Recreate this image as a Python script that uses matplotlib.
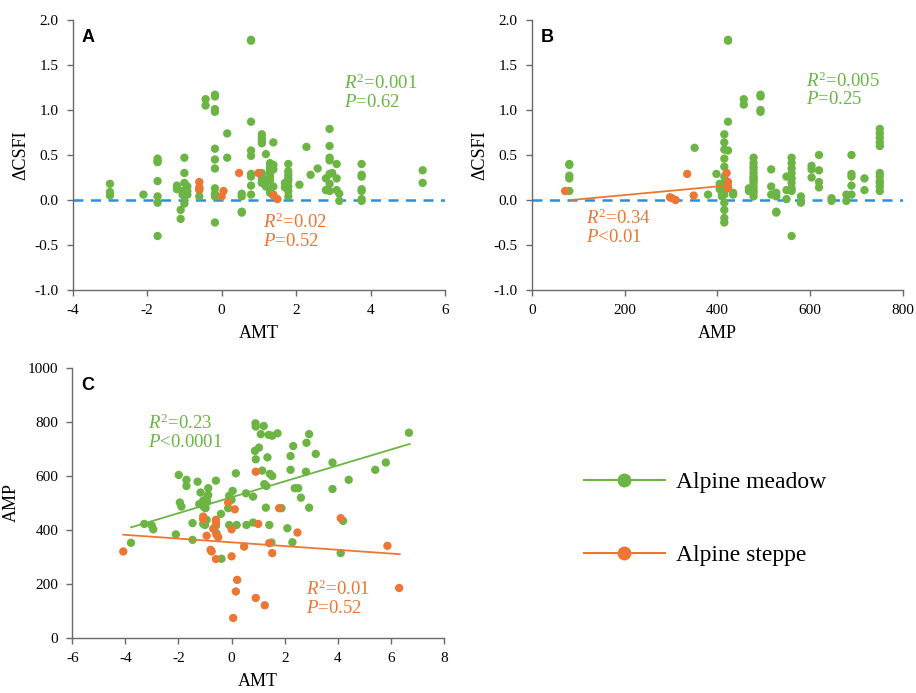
import matplotlib
matplotlib.use("Agg")
import matplotlib.pyplot as plt
from matplotlib.lines import Line2D
from matplotlib.ticker import FormatStrFormatter
import numpy as np

plt.rcParams["font.family"] = ["Liberation Serif", "DejaVu Serif"]
plt.rcParams["mathtext.fontset"] = "custom"
plt.rcParams["mathtext.rm"] = "Liberation Serif"
plt.rcParams["mathtext.it"] = "Liberation Serif:italic"
plt.rcParams["axes.unicode_minus"] = False

GREEN = "#6cb544"
ORANGE = "#ee7635"
BLUE = "#2f8fd6"
SPINE = "#6a6a6a"

# ---- Panel A: ΔCSFI vs AMT ----
meadow_amt_a = [-3.0, -3.0, -3.0, -2.1,
                -1.72, -1.72, -1.72, -1.72, -1.72, -1.72, -1.72,
                -1.2, -1.2, -1.1, -1.1, -1.05, -1.05,
                -1.0, -1.0, -1.0, -1.0, -1.0, -1.0,
                -0.92, -0.92, -0.92, -0.6, -0.6, -0.43, -0.43,
                -0.18, -0.18, -0.18, -0.18, -0.18, -0.18, -0.18, -0.18, -0.18, -0.18, -0.18,
                0.15, 0.15, 0.54, 0.54, 0.54, 0.54,
                0.79, 0.79, 0.79, 0.79, 0.79, 0.79, 0.79, 0.79, 0.79,
                1.08, 1.08, 1.08, 1.08, 1.08, 1.08, 1.08, 1.08,
                1.19, 1.19, 1.19,
                1.30, 1.30, 1.30, 1.30, 1.30, 1.30, 1.30, 1.30,
                1.39, 1.39, 1.39, 1.39, 1.39, 1.70, 1.70,
                1.79, 1.79, 1.79, 1.79, 1.79, 1.79, 1.79, 1.79,
                2.09, 2.28, 2.39, 2.58, 2.80, 2.80,
                2.90, 2.90, 2.90, 2.90, 2.90, 2.90, 2.90, 2.97,
                3.09, 3.09, 3.09, 3.16, 3.16,
                3.76, 3.76, 3.76, 3.76, 3.76, 3.76, 3.76,
                5.40, 5.40]
meadow_csfi_a = [0.18, 0.09, 0.05, 0.06,
                 0.46, 0.43, 0.42, 0.21, 0.04, -0.03, -0.40,
                 0.16, 0.12, -0.11, -0.21, 0.10, 0.06,
                 0.47, 0.30, 0.19, 0.10, 0.04, -0.04,
                 0.15, 0.10, 0.06, 0.11, 0.04, 1.12, 1.05,
                 1.17, 1.15, 1.01, 0.98, 0.57, 0.45, 0.35, 0.13, 0.07, 0.04, -0.25,
                 0.74, 0.47, 0.07, 0.04, -0.13, -0.14,
                 1.78, 1.77, 0.87, 0.55, 0.49, 0.29, 0.26, 0.16, 0.06,
                 0.73, 0.69, 0.66, 0.63, 0.30, 0.26, 0.22, 0.19,
                 0.51, 0.21, 0.15,
                 0.41, 0.37, 0.34, 0.30, 0.26, 0.22, 0.11, 0.08,
                 0.64, 0.39, 0.34, 0.15, 0.06, 0.19, 0.14,
                 0.40, 0.32, 0.28, 0.24, 0.21, 0.15, 0.10, 0.04,
                 0.17, 0.59, 0.28, 0.35, 0.24, 0.11,
                 0.79, 0.60, 0.47, 0.44, 0.29, 0.18, 0.10, 0.30,
                 0.40, 0.24, 0.11, 0.07, -0.01,
                 0.40, 0.28, 0.26, 0.12, 0.10, 0.01, -0.01,
                 0.33, 0.19]
steppe_amt_a = [-0.6, -0.6, -0.6, 0.0, 0.05, 0.47, 0.99, 1.39, 1.50]
steppe_csfi_a = [0.20, 0.14, 0.12, 0.04, 0.10, 0.30, 0.30, 0.05, 0.01]

# ---- Panel B: ΔCSFI vs AMP ----
meadow_amp_b = [81, 81, 81, 81, 81, 351, 380, 398,
                405, 405, 410, 410,
                415, 415, 415, 415, 415, 415, 415, 415, 415, 415, 415, 415, 415,
                423, 423, 423, 423, 423, 434, 434, 457, 457,
                468, 468,
                478, 478, 478, 478, 478, 478, 478, 478, 478, 478, 478, 478, 478,
                493, 493, 493, 493, 516, 516, 516,
                527, 527, 527, 527, 549, 549, 549,
                560, 560, 560, 560, 560, 560, 560, 560, 560,
                580, 580, 603, 603, 603, 619, 619, 619, 619,
                646, 646, 678, 678, 689, 689, 689, 689, 689, 717, 717,
                750, 750, 750, 750, 750, 750, 750, 750, 750, 750, 750]
meadow_csfi_b = [0.40, 0.39, 0.27, 0.24, 0.10, 0.58, 0.06, 0.29,
                 0.18, 0.12, 0.08, 0.04,
                 0.73, 0.64, 0.56, 0.46, 0.37, 0.26, 0.19, 0.11, 0.06, -0.03, -0.11, -0.20, -0.25,
                 1.78, 1.77, 0.87, 0.55, 0.15, 0.08, 0.06, 1.12, 1.06,
                 0.13, 0.10,
                 0.47, 0.41, 0.37, 0.34, 0.30, 0.26, 0.24, 0.22, 0.19, 0.15, 0.11, 0.08, 0.04,
                 1.17, 1.15, 1.00, 0.98, 0.34, 0.15, 0.06,
                 0.08, 0.04, -0.13, -0.14, 0.26, 0.11, 0.01,
                 0.47, 0.41, 0.35, 0.30, 0.24, 0.19, 0.13, 0.10, -0.40,
                 0.04, -0.03, 0.38, 0.34, 0.25, 0.50, 0.33, 0.20, 0.14,
                 0.02, -0.01, 0.06, -0.01, 0.50, 0.29, 0.26, 0.16, 0.06, 0.24, 0.11,
                 0.79, 0.74, 0.69, 0.64, 0.60, 0.30, 0.26, 0.21, 0.19, 0.15, 0.10]
steppe_amp_b = [72, 298, 302, 310, 335, 349, 420, 423, 423]
steppe_csfi_b = [0.10, 0.03, 0.02, 0.00, 0.29, 0.05, 0.30, 0.20, 0.13]
steppe_fit_b = [0.000478, -0.0406]      # slope, intercept
steppe_fit_b_range = [85, 420]

# ---- Panel C: AMP vs AMT ----
meadow_amt_c = [-3.79, -3.29, -3.01, -2.95, -2.10, -1.99, -1.95, -1.89, -1.70, -1.70,
                -1.47, -1.47, -1.28, -1.22, -1.17, -1.07, -1.04, -0.94, -0.92, -0.88,
                -0.88, -1.07, -1.00, -0.94, -0.98, -0.59, -0.57, -0.59, -0.40, -0.38,
                -0.13, -0.09, -0.09, 0.04, 0.00, 0.16, 0.19, 0.54, 0.56, 0.81,
                0.81, 0.90, 0.91, 0.91, 0.88, 1.03, 1.10, 1.15, 1.21, 1.23,
                1.31, 1.35, 1.29, 1.40, 1.53, 1.42, 1.44, 1.53, 1.50, 1.73,
                1.88, 2.10, 2.22, 2.22, 2.29, 2.32, 2.38, 2.51, 2.61, 2.82,
                2.80, 2.92, 2.92, 3.17, 3.80, 3.80, 4.11, 4.20, 4.41, 5.41,
                5.81, 6.68]
meadow_amp_c = [352, 422, 416, 402, 383, 603, 501, 486, 585, 562,
                425, 363, 578, 495, 538, 508, 484, 517, 503, 554,
                529, 422, 418, 437, 480, 582, 388, 415, 459, 293,
                480, 526, 418, 544, 511, 609, 418, 535, 418, 523,
                427, 794, 782, 661, 692, 704, 754, 619, 784, 569,
                562, 668, 482, 751, 748, 418, 607, 599, 353, 757,
                480, 406, 673, 622, 354, 710, 554, 554, 519, 722,
                615, 754, 482, 681, 649, 551, 314, 433, 585, 622,
                649, 759]
steppe_amt_c = [-4.08, -1.07, -1.07, -0.94, -0.79, -0.75, -0.69, -0.59, -0.59, -0.57,
                -0.59, -0.50, -0.13, 0.00, 0.12, 0.00, 0.21, 0.16, 0.06, 0.47,
                0.91, 1.00, 0.91, 1.25, 1.42, 1.53, 1.79, 2.48, 4.11, 5.87,
                6.31]
steppe_amp_c = [320, 449, 439, 378, 326, 320, 404, 437, 425, 382,
                292, 373, 501, 402, 476, 302, 215, 172, 74, 338,
                615, 422, 148, 121, 351, 314, 480, 390, 443, 341,
                185]
meadow_fit_c = [29.4, 520.5]
meadow_fit_c_range = [-3.79, 6.71]
steppe_fit_c = [-6.92, 353.8]
steppe_fit_c_range = [-4.08, 6.33]

W, H = 916, 693
fig = plt.figure(figsize=(W / 100, H / 100), dpi=100)


def box(x0, y0, x1, y1):
    return [x0 / W, 1 - y1 / H, (x1 - x0) / W, (y1 - y0) / H]


ax_a = fig.add_axes(box(72.7, 20, 445, 290))
ax_b = fig.add_axes(box(531.7, 20, 903, 290))
ax_c = fig.add_axes(box(72.3, 367.6, 444, 638))

TICK_FS = 11
LABEL_FS = 13
NOTE_FS = 13.5


def style(ax):
    for side in ("top", "right"):
        ax.spines[side].set_visible(False)
    for side in ("left", "bottom"):
        ax.spines[side].set_color(SPINE)
        ax.spines[side].set_linewidth(1.0)
    ax.tick_params(direction="out", length=4, width=1.0, color=SPINE,
                   labelsize=TICK_FS, pad=6)


def dots(ax, x, y, color):
    ax.scatter(x, y, s=36, color=color, edgecolors="none", zorder=3, clip_on=False)


def fit_line(ax, coef, xr, color):
    xs = np.array(xr, dtype=float)
    ax.plot(xs, coef[0] * xs + coef[1], color=color, lw=1.3, zorder=4)


def note(ax, x, y, lines, color):
    ax.text(x, y, "\n".join(lines), color=color, fontsize=NOTE_FS,
            transform=ax.transAxes, va="top", ha="left", linespacing=1.05)


# Panel A
style(ax_a)
ax_a.axhline(0, color=BLUE, lw=1.8, ls=(0, (4, 3)), zorder=2)
dots(ax_a, meadow_amt_a, meadow_csfi_a, GREEN)
dots(ax_a, steppe_amt_a, steppe_csfi_a, ORANGE)
ax_a.set_xlim(-4, 6)
ax_a.set_ylim(-1.0, 2.0)
ax_a.set_xticks(np.arange(-4, 7, 2))
ax_a.set_yticks(np.arange(-1.0, 2.01, 0.5))
ax_a.yaxis.set_major_formatter(FormatStrFormatter("%.1f"))
ax_a.set_xlabel("AMT", fontsize=LABEL_FS, labelpad=6)
ax_a.set_ylabel("ΔCSFI", fontsize=LABEL_FS, labelpad=4)
ax_a.text(0.025, 0.935, "A", transform=ax_a.transAxes, fontsize=13,
          fontweight="bold", family="Liberation Sans", va="center")
note(ax_a, 0.73, 0.80, [r"$R^{2}$=0.001", r"$P$=0.62"], GREEN)
note(ax_a, 0.51, 0.285, [r"$R^{2}$=0.02", r"$P$=0.52"], ORANGE)

# Panel B
style(ax_b)
ax_b.axhline(0, color=BLUE, lw=1.8, ls=(0, (4, 3)), zorder=2)
dots(ax_b, meadow_amp_b, meadow_csfi_b, GREEN)
dots(ax_b, steppe_amp_b, steppe_csfi_b, ORANGE)
fit_line(ax_b, steppe_fit_b, steppe_fit_b_range, ORANGE)
ax_b.set_xlim(0, 800)
ax_b.set_ylim(-1.0, 2.0)
ax_b.set_xticks(np.arange(0, 801, 200))
ax_b.set_yticks(np.arange(-1.0, 2.01, 0.5))
ax_b.yaxis.set_major_formatter(FormatStrFormatter("%.1f"))
ax_b.set_xlabel("AMP", fontsize=LABEL_FS, labelpad=6)
ax_b.set_ylabel("ΔCSFI", fontsize=LABEL_FS, labelpad=4)
ax_b.text(0.025, 0.935, "B", transform=ax_b.transAxes, fontsize=13,
          fontweight="bold", family="Liberation Sans", va="center")
note(ax_b, 0.74, 0.81, [r"$R^{2}$=0.005", r"$P$=0.25"], GREEN)
note(ax_b, 0.145, 0.30, [r"$R^{2}$=0.34", r"$P$<0.01"], ORANGE)

# Panel C
style(ax_c)
dots(ax_c, meadow_amt_c, meadow_amp_c, GREEN)
dots(ax_c, steppe_amt_c, steppe_amp_c, ORANGE)
fit_line(ax_c, meadow_fit_c, meadow_fit_c_range, GREEN)
fit_line(ax_c, steppe_fit_c, steppe_fit_c_range, ORANGE)
ax_c.set_xlim(-6, 8)
ax_c.set_ylim(0, 1000)
ax_c.set_xticks(np.arange(-6, 9, 2))
ax_c.set_yticks(np.arange(0, 1001, 200))
ax_c.set_xlabel("AMT", fontsize=LABEL_FS, labelpad=6)
ax_c.set_ylabel("AMP", fontsize=LABEL_FS, labelpad=6)
ax_c.text(0.025, 0.935, "C", transform=ax_c.transAxes, fontsize=13,
          fontweight="bold", family="Liberation Sans", va="center")
note(ax_c, 0.205, 0.83, [r"$R^{2}$=0.23", r"$P$<0.0001"], GREEN)
note(ax_c, 0.63, 0.215, [r"$R^{2}$=0.01", r"$P$=0.52"], ORANGE)

# Legend
handles = [Line2D([], [], color=GREEN, lw=1.5, marker="o", markersize=10,
                  markeredgecolor="none"),
           Line2D([], [], color=ORANGE, lw=1.5, marker="o", markersize=10,
                  markeredgecolor="none")]
fig.legend(handles, ["Alpine meadow", "Alpine steppe"], loc="center left",
           bbox_to_anchor=(563 / W, 1 - 519 / H), frameon=False, fontsize=17,
           handlelength=3.4, handletextpad=0.5, labelspacing=2.2)

fig.savefig("out.png", dpi=100)
